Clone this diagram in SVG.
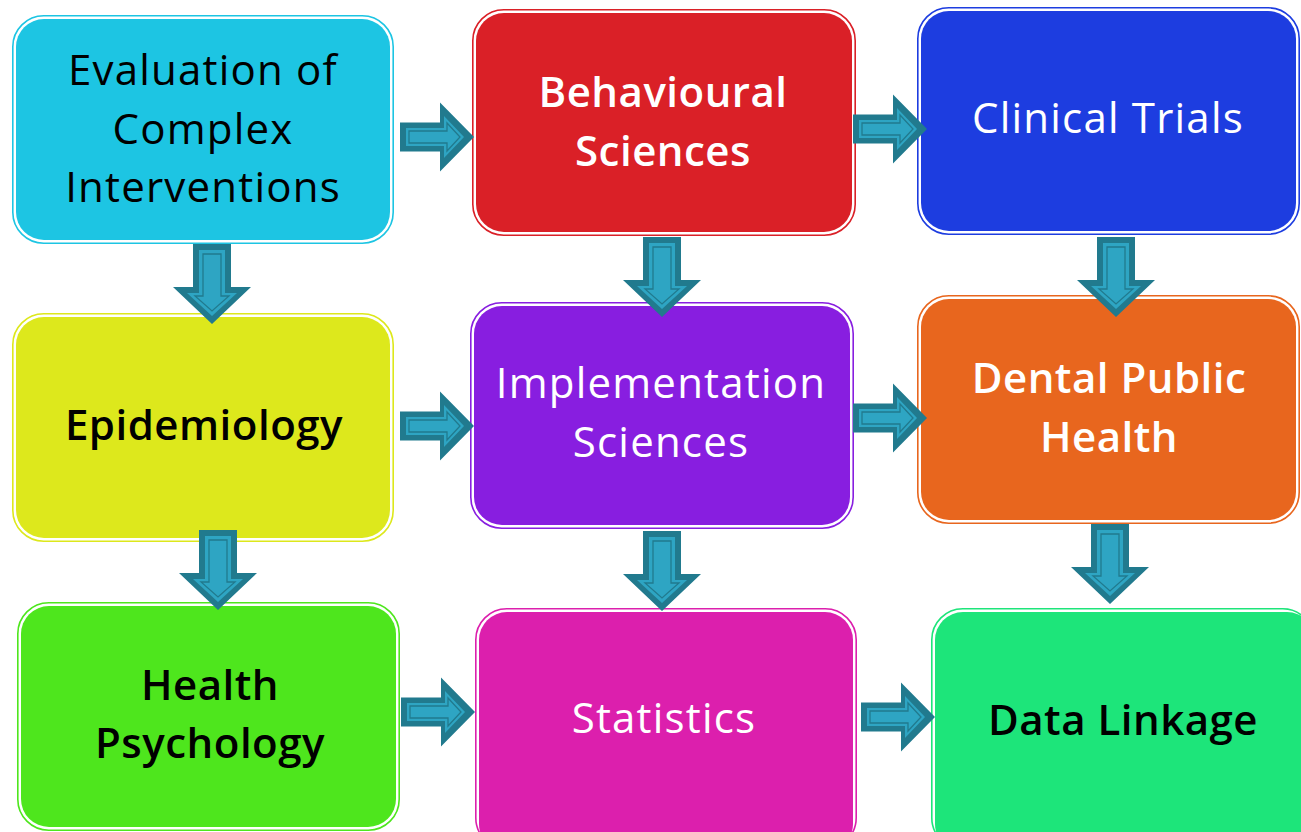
<svg xmlns="http://www.w3.org/2000/svg" width="1301" height="832" viewBox="0 0 1301 832">
<defs>
<style>
.o{fill:none;stroke-width:1.6}
.f{stroke:none}
.t{font-family:"Open Sans","Noto Sans","DejaVu Sans",sans-serif;font-size:42px;letter-spacing:1.2px;text-anchor:middle}
.b{font-weight:600;letter-spacing:0.5px}
.k{fill:#000}
.w{fill:#fff}
.a1{fill:#217A8E}
.a2{fill:#2EA5C3}
.a3{fill:#2EA5C3;stroke:#217A8E;stroke-width:1.3}
</style>
<g id="ra">
<polygon class="a1" points="0,-14.5 40,-14.5 40,-34.5 74,0 40,34.5 40,14.5 0,14.5"/>
<polygon class="a2" points="6,-9 44,-9 44,-21 64,0 44,21 44,9 6,9"/>
<polygon class="a3" points="9,-6 47,-6 47,-14 60,0 47,14 47,6 9,6"/>
</g>
<g id="da">
<polygon class="a1" points="-19,0 19,0 19,43 39,43 0,80 -39,43 -19,43"/>
<polygon class="a2" points="-13,6 13,6 13,49 25,49 0,72 -25,49 -13,49"/>
<polygon class="a3" points="-9,10 9,10 9,52 17,52 0,67 -17,52 -9,52"/>
</g>
</defs>
<rect width="1301" height="832" fill="#fff"/>

<g id="n1">
<rect class="o" x="12.8" y="15.8" width="380.4" height="227.4" rx="31" stroke="#1DC5E3"/>
<rect class="f" x="16" y="19" width="374" height="221" rx="28" fill="#1DC5E3"/>
<text class="t k" x="203" y="85">Evaluation of</text>
<text class="t k" x="203" y="144">Complex</text>
<text class="t k" x="203" y="202">Interventions</text>
</g>
<g id="n2">
<rect class="o" x="472.8" y="9.8" width="382.4" height="225.4" rx="31" stroke="#DA2027"/>
<rect class="f" x="476" y="13" width="376" height="219" rx="28" fill="#DA2027"/>
<text class="t w b" x="663" y="107">Behavioural</text>
<text class="t w b" x="663" y="166">Sciences</text>
</g>
<g id="n3">
<rect class="o" x="917.8" y="7.8" width="381.4" height="226.4" rx="31" stroke="#1D3DE0"/>
<rect class="f" x="921" y="11" width="375" height="220" rx="28" fill="#1D3DE0"/>
<text class="t w" x="1108" y="133">Clinical Trials</text>
</g>
<g id="n4">
<rect class="o" x="12.8" y="313.8" width="380.4" height="227.4" rx="31" stroke="#DDE81C"/>
<rect class="f" x="16" y="317" width="374" height="221" rx="28" fill="#DDE81C"/>
<text class="t k b" x="204" y="440">Epidemiology</text>
</g>
<g id="n5">
<rect class="o" x="470.8" y="302.8" width="382.4" height="225.4" rx="31" stroke="#881EE0"/>
<rect class="f" x="474" y="306" width="376" height="219" rx="28" fill="#881EE0"/>
<text class="t w" x="661" y="398">Implementation</text>
<text class="t w" x="661" y="457">Sciences</text>
</g>
<g id="n6">
<rect class="o" x="917.8" y="295.8" width="381.4" height="227.4" rx="31" stroke="#E8661E"/>
<rect class="f" x="921" y="299" width="375" height="221" rx="28" fill="#E8661E"/>
<text class="t w b" x="1109" y="393">Dental Public</text>
<text class="t w b" x="1109" y="452">Health</text>
</g>
<g id="n7">
<rect class="o" x="17.8" y="602.8" width="381.4" height="227.4" rx="31" stroke="#4EE61D"/>
<rect class="f" x="21" y="606" width="375" height="221" rx="28" fill="#4EE61D"/>
<text class="t k b" x="210" y="700">Health</text>
<text class="t k b" x="210" y="758">Psychology</text>
</g>
<g id="n8">
<rect class="o" x="475.8" y="608.8" width="380.4" height="240" rx="31" stroke="#DC1FAD"/>
<rect class="f" x="479" y="612" width="374" height="240" rx="28" fill="#DC1FAD"/>
<text class="t w" x="664" y="733">Statistics</text>
</g>
<g id="n9">
<rect class="o" x="931.8" y="608.8" width="382" height="240" rx="31" stroke="#1DE57A"/>
<rect class="f" x="935" y="612" width="380" height="240" rx="28" fill="#1DE57A"/>
<text class="t k b" x="1123" y="735">Data Linkage</text>
</g>

<g id="connectors">
<use href="#ra" x="400" y="137"/>
<use href="#ra" x="853" y="129"/>
<use href="#ra" x="400" y="426"/>
<use href="#ra" x="853" y="418"/>
<use href="#ra" x="401" y="712"/>
<use href="#ra" x="861" y="717"/>
<use href="#da" x="212" y="244"/>
<use href="#da" x="662" y="237"/>
<use href="#da" x="1116" y="237"/>
<use href="#da" x="218" y="530"/>
<use href="#da" x="662" y="531"/>
<use href="#da" x="1110" y="524"/>
</g>
</svg>
